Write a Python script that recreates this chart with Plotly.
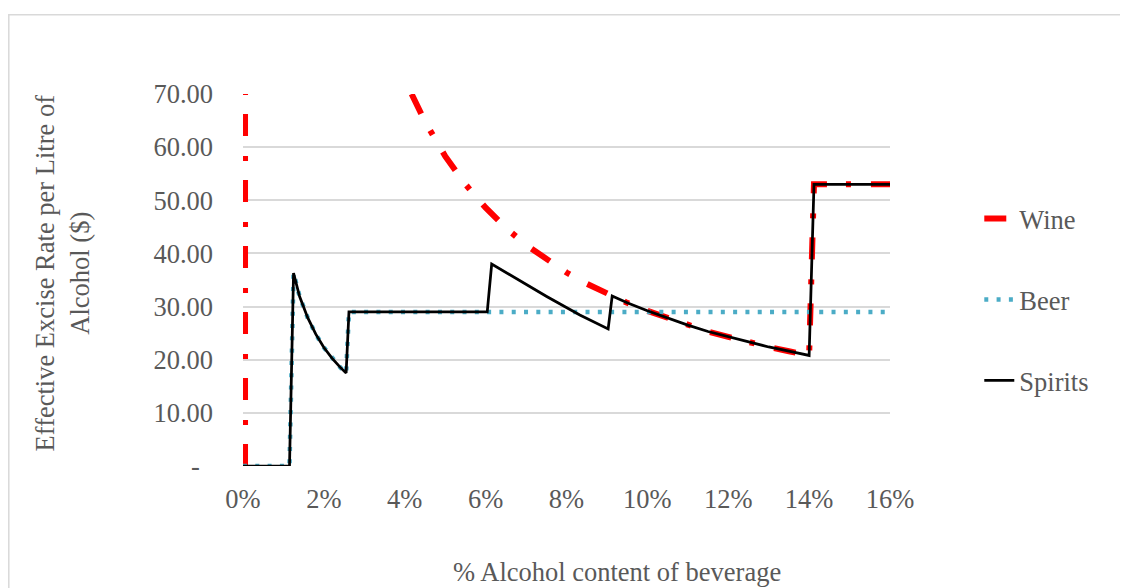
import plotly.graph_objects as go

# ---- data (x in % alcohol, y in $ per litre of alcohol) ----
wine_x = [0.05, 0.05, None, 4.17, 4.5, 5.0, 5.5, 6.0, 6.5, 7.0, 7.5, 8.0, 8.5, 9.0, 9.12, 9.5,
          10.0, 10.5, 11.0, 11.5, 12.0, 12.5, 13.0, 13.5, 14.0, 14.12, 16.0]
wine_y = [0.0, 70.0, None, 70.0, 64.8, 58.3, 53.0, 48.6, 44.8, 41.6, 38.9, 36.4, 34.3, 32.4, 32.0, 30.7,
          29.2, 27.8, 26.5, 25.3, 24.3, 23.3, 22.4, 21.6, 20.8, 53.0, 53.0]

beer_x = [0.0, 1.15, 1.25, 1.4, 1.6, 1.8, 2.0, 2.2, 2.4, 2.55, 2.62, 16.0]
beer_y = [0.0, 0.0, 36.3, 31.9, 27.9, 24.8, 22.3, 20.3, 18.6, 17.5, 29.0, 29.0]

spirits_x = [0.0, 1.15, 1.25, 1.4, 1.6, 1.8, 2.0, 2.2, 2.4, 2.55, 2.62, 6.04, 6.15, 6.68, 7.51, 8.33,
             9.03, 9.13, 9.5, 10.0, 10.5, 11.0, 11.5, 12.0, 12.5, 13.0, 13.5, 14.0, 14.12, 16.0]
spirits_y = [0.0, 0.0, 36.3, 31.9, 27.9, 24.8, 22.3, 20.3, 18.6, 17.5, 29.0, 29.0, 38.0, 35.6, 31.9, 28.4,
             25.8, 32.0, 30.7, 29.2, 27.8, 26.5, 25.3, 24.3, 23.3, 22.4, 21.6, 20.8, 53.0, 53.0]

x_ticks = [0, 2, 4, 6, 8, 10, 12, 14, 16]
x_ticktext = [f"{v}%" for v in x_ticks]
y_ticks = [0, 10, 20, 30, 40, 50, 60, 70]
y_ticktext = ["-\u00a0\u00a0" if v == 0 else f"{v:.2f}" for v in y_ticks]

FONT = "Liberation Serif, Times New Roman, serif"
GREY = "#595959"
FS = 26.5

fig = go.Figure()
fig.add_trace(go.Scatter(x=wine_x, y=wine_y, name="Wine", mode="lines", legendgroup="w",
                         connectgaps=False,
                         line=dict(color="#FF0000", width=6, dash="22px,19px,5px,20px")))
fig.add_trace(go.Scatter(x=beer_x, y=beer_y, name="Beer", mode="lines", legendgroup="b",
                         line=dict(color="#4BACC6", width=4.5, dash="4px,8.3px")))
fig.add_trace(go.Scatter(x=spirits_x, y=spirits_y, name="Spirits", mode="lines", legendgroup="s",
                         line=dict(color="#000000", width=2.75)))

fig.update_layout(
    width=1120, height=580,
    margin=dict(l=235, r=238, t=86, b=122),
    paper_bgcolor="white", plot_bgcolor="white",
    font=dict(family=FONT, size=FS, color=GREY),
    showlegend=True,
    legend=dict(x=1.138, xanchor="left", y=0.729, yanchor="top",
                font=dict(family=FONT, size=FS, color=GREY),
                tracegroupgap=43.5, traceorder="grouped", bgcolor="rgba(0,0,0,0)"),
    xaxis=dict(range=[0, 16], tickmode="array", tickvals=x_ticks, ticktext=x_ticktext,
               showgrid=False, zeroline=False, showline=False, ticks="", ticklabelstandoff=14,
               tickfont=dict(family=FONT, size=FS, color=GREY)),
    yaxis=dict(range=[0, 70], tickmode="array", tickvals=y_ticks, ticktext=y_ticktext, showgrid=True,
               gridcolor="#D9D9D9", gridwidth=1.5, zeroline=False, showline=False,
               ticks="", ticklabelstandoff=29,
               tickfont=dict(family=FONT, size=FS, color=GREY)),
    annotations=[
        dict(text="% Alcohol content of beverage", xref="paper", yref="paper",
             x=0.578, y=-0.285, xanchor="center", yanchor="middle", showarrow=False,
             font=dict(family=FONT, size=FS, color=GREY)),
        dict(text="Effective Excise Rate per Litre of<br>Alcohol ($)", xref="paper", yref="paper",
             x=-0.280, y=0.520, xanchor="center", yanchor="middle", showarrow=False,
             textangle=-90, font=dict(family=FONT, size=FS, color=GREY)),
    ],
    shapes=[dict(type="rect", xref="paper", yref="paper", x0=-0.362, x1=1.7, y0=-0.6, y1=1.2132,
                 line=dict(color="#D9D9D9", width=1.5), layer="below")],
)

fig.write_html("out.html")
